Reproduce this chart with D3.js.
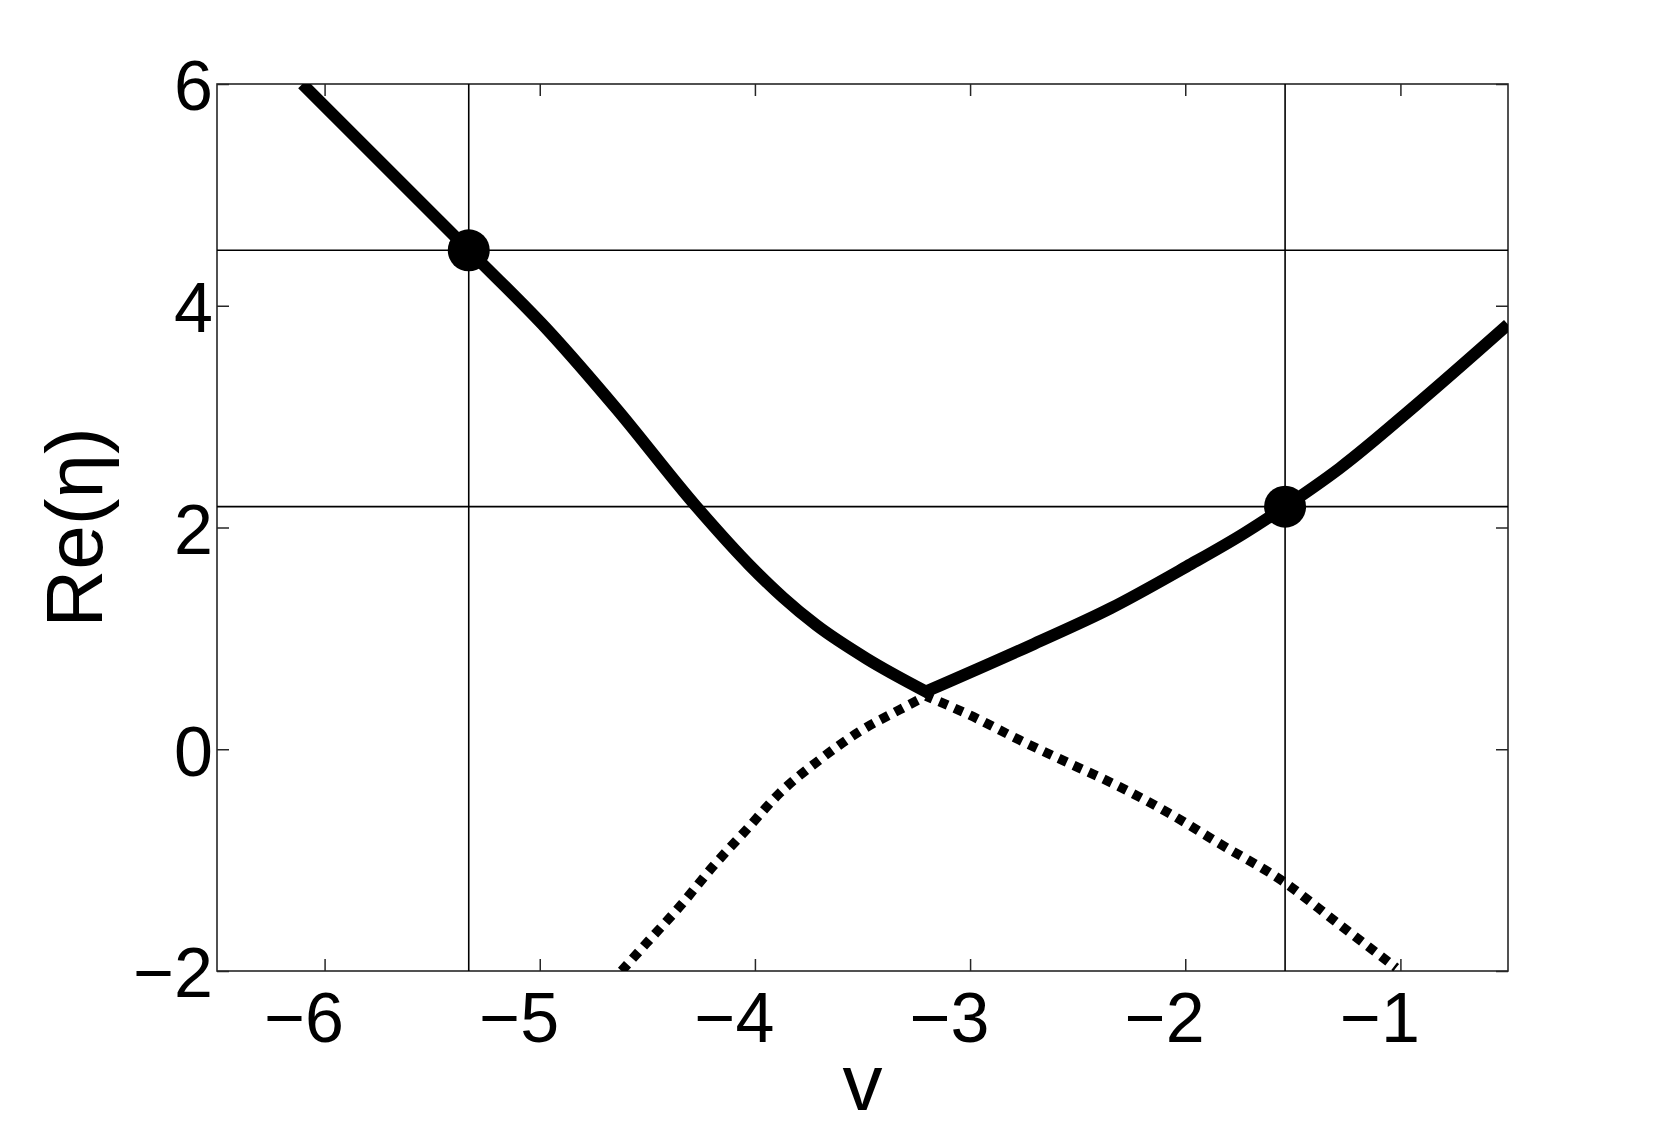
<!DOCTYPE html>
<html>
<head>
<meta charset="utf-8">
<script src="https://cdn.jsdelivr.net/npm/d3@7"></script>
<style>
  body { margin: 0; background: #fff; }
  svg { display: block; }
  text { font-family: "Liberation Sans", Arial, Helvetica, sans-serif; fill: #000; }
</style>
</head>
<body>
<div class="canvas"></div>
<script>
// data
const vTicks = [-6, -5, -4, -3, -2, -1];
const etaTicks = [-2, 0, 2, 4, 6];

// solid branch (two arms meeting at the kink)
const solidLeft = [
  [-6.103, 6.0], [-5.33, 4.5], [-4.953, 3.76], [-4.643, 3.07],
  [-4.272, 2.188], [-4.025, 1.66], [-3.870, 1.37], [-3.715, 1.12],
  [-3.483, 0.82], [-3.205, 0.52]
];
const solidRight = [
  [-3.205, 0.52], [-2.703, 0.95], [-2.348, 1.27], [-1.993, 1.648],
  [-1.726, 1.948], [-1.536, 2.188], [-1.282, 2.535], [-0.927, 3.106], [-0.5, 3.83]
];

// dotted branch
const dottedLeft = [
  [-4.62, -2.0], [-4.504, -1.749], [-4.349, -1.418], [-4.195, -1.057], [-4.04, -0.727],
  [-3.885, -0.396], [-3.70, -0.096], [-3.514, 0.16], [-3.329, 0.355], [-3.205, 0.48]
];
const dottedRight = [
  [-3.205, 0.48], [-3.004, 0.31], [-2.772, 0.085], [-2.54, -0.126], [-2.308, -0.336],
  [-2.076, -0.576], [-1.844, -0.847], [-1.534, -1.207], [-1.302, -1.553], [-1.02, -1.97]
];

// marked points and their guide lines
const markV = [-5.33, -1.536];
const markEta = [4.5, 2.188];

const margin = { top: 84, right: 158, bottom: 156, left: 217 };
const width = 1666, height = 1127;
const graphWidth = width - margin.left - margin.right;
const graphHeight = height - margin.top - margin.bottom;

const svg = d3.select('.canvas')
  .append('svg')
  .attr('width', width)
  .attr('height', height);

const graph = svg.append('g')
  .attr('transform', `translate(${margin.left}, ${margin.top})`);

// scales
const x = d3.scaleLinear().domain([-6.5, -0.5]).range([0, graphWidth]);
const y = d3.scaleLinear().domain([-2, 6]).range([graphHeight, 0]);

graph.append('clipPath').attr('id', 'plot-clip')
  .append('rect').attr('width', graphWidth).attr('height', graphHeight);

// axes (ticks inside, mirrored on top and right)
const tickColor = '#262626';
const fontSize = 70;
const fmt = d3.format('d');

const xAxisGroup = graph.append('g')
  .attr('transform', `translate(0, ${graphHeight})`)
  .call(d3.axisBottom(x).tickValues(vTicks).tickFormat(fmt)
    .tickSizeInner(-12).tickSizeOuter(0).tickPadding(21));
xAxisGroup.selectAll('text').attr('font-size', fontSize).attr('dx', -21);

const yAxisGroup = graph.append('g')
  .call(d3.axisLeft(y).tickValues(etaTicks).tickFormat(fmt)
    .tickSizeInner(-12).tickSizeOuter(0).tickPadding(4));
yAxisGroup.selectAll('text').attr('font-size', fontSize).attr('dy', '0.37em');

graph.append('g')
  .call(d3.axisTop(x).tickValues(vTicks).tickSizeInner(-12).tickSizeOuter(0).tickFormat(''));
graph.append('g')
  .attr('transform', `translate(${graphWidth}, 0)`)
  .call(d3.axisRight(y).tickValues(etaTicks).tickSizeInner(-12).tickSizeOuter(0).tickFormat(''));

graph.selectAll('.domain').remove();
graph.selectAll('.tick line').attr('stroke', tickColor).attr('stroke-width', 1.5);
graph.selectAll('.tick text').attr('fill', '#000').attr('font-family', '"Liberation Sans", Arial, sans-serif');

graph.append('rect')
  .attr('width', graphWidth)
  .attr('height', graphHeight)
  .attr('fill', 'none')
  .attr('stroke', tickColor)
  .attr('stroke-width', 1.6);

// guide lines through the marked points
graph.selectAll('.vguide')
  .data(markV)
  .enter().append('line')
  .attr('x1', d => x(d)).attr('x2', d => x(d))
  .attr('y1', 0).attr('y2', graphHeight)
  .attr('stroke', '#000').attr('stroke-width', 1.6);

graph.selectAll('.hguide')
  .data(markEta)
  .enter().append('line')
  .attr('x1', 0).attr('x2', graphWidth)
  .attr('y1', d => y(d)).attr('y2', d => y(d))
  .attr('stroke', '#000').attr('stroke-width', 1.6);

// line generator
const line = d3.line()
  .curve(d3.curveMonotoneX)
  .x(d => x(d[0]))
  .y(d => y(d[1]));

// join two arms into a single path so the kink gets a proper corner
const joined = (a, b) => line(a) + line(b).replace(/^M/, 'L');

const curves = graph.append('g').attr('clip-path', 'url(#plot-clip)');

curves.append('path')
  .attr('d', joined(dottedLeft, dottedRight))
  .attr('fill', 'none')
  .attr('stroke', '#000')
  .attr('stroke-width', 9.5)
  .attr('stroke-dasharray', '9 7.5');

curves.append('path')
  .attr('d', joined(solidLeft, solidRight))
  .attr('fill', 'none')
  .attr('stroke', '#000')
  .attr('stroke-width', 12)
  .attr('stroke-linejoin', 'miter');

// markers
graph.selectAll('circle')
  .data(d3.zip(markV, markEta))
  .enter().append('circle')
  .attr('cx', d => x(d[0]))
  .attr('cy', d => y(d[1]))
  .attr('r', 21)
  .attr('fill', '#000');

// axis labels
svg.append('text')
  .attr('x', margin.left + graphWidth / 2)
  .attr('y', 1110)
  .attr('text-anchor', 'middle')
  .attr('font-size', 80)
  .text('v');

svg.append('text')
  .attr('transform', `translate(102, ${margin.top + graphHeight / 2}) rotate(-90)`)
  .attr('text-anchor', 'middle')
  .attr('font-size', 80)
  .text('Re(η)');
</script>
</body>
</html>
